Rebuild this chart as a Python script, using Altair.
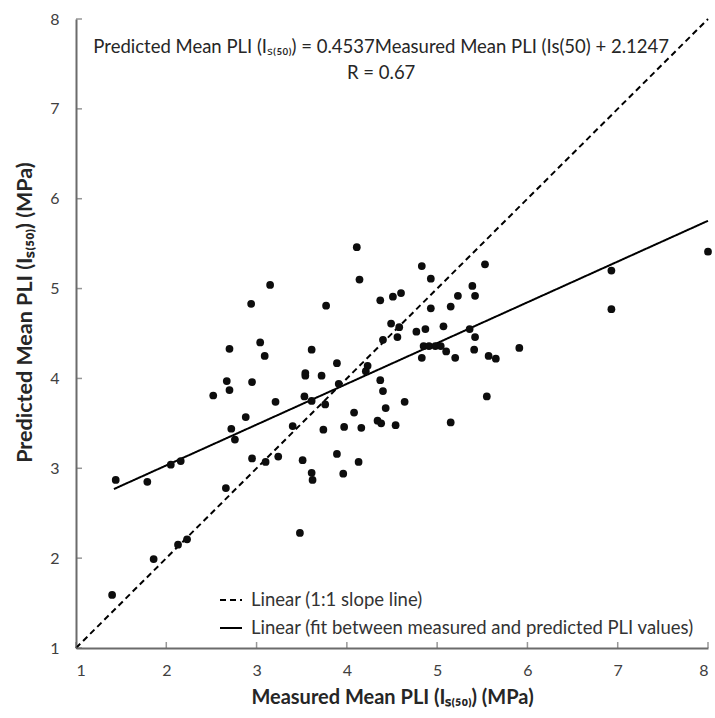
import altair as alt
import pandas as pd

# Measured vs predicted mean PLI
measured = [1.40, 1.44, 1.79, 1.86, 2.05, 2.13, 2.16, 2.23, 2.52, 2.66,
            2.67, 2.70, 2.70, 2.72, 2.76, 2.88, 2.94, 2.95, 2.95, 3.04,
            3.09, 3.10, 3.15, 3.21, 3.24, 3.40, 3.48, 3.51, 3.53, 3.54,
            3.54, 3.61, 3.61, 3.61, 3.62, 3.72, 3.74, 3.76, 3.77, 3.89,
            3.89, 3.91, 3.96, 3.97, 4.08, 4.11, 4.13, 4.14, 4.16, 4.21,
            4.23, 4.34, 4.37, 4.37, 4.38, 4.40, 4.40, 4.43, 4.49, 4.51,
            4.54, 4.56, 4.58, 4.60, 4.64, 4.77, 4.83, 4.83, 4.85, 4.87,
            4.91, 4.93, 4.93, 4.98, 5.04, 5.07, 5.10, 5.15, 5.15, 5.20,
            5.23, 5.36, 5.39, 5.41, 5.42, 5.42, 5.53, 5.55, 5.57, 5.65,
            5.91, 6.93, 6.93, 8.00]
predicted = [1.59, 2.87, 2.85, 1.99, 3.04, 2.15, 3.08, 2.21, 3.81, 2.78,
             3.97, 3.87, 4.33, 3.44, 3.32, 3.57, 4.83, 3.96, 3.11, 4.40,
             4.25, 3.07, 5.04, 3.74, 3.13, 3.47, 2.28, 3.09, 3.80, 4.06,
             4.03, 4.32, 3.75, 2.95, 2.87, 4.03, 3.43, 3.71, 4.81, 4.17,
             3.16, 3.94, 2.94, 3.46, 3.62, 5.46, 3.07, 5.10, 3.45, 4.08,
             4.14, 3.53, 4.87, 3.98, 3.50, 3.86, 4.43, 3.67, 4.61, 4.91,
             3.48, 4.46, 4.57, 4.95, 3.74, 4.52, 5.25, 4.23, 4.36, 4.55,
             4.36, 5.11, 4.78, 4.36, 4.36, 4.58, 4.30, 4.80, 3.51, 4.23,
             4.92, 4.55, 5.03, 4.32, 4.92, 4.46, 5.27, 3.80, 4.25, 4.22,
             4.34, 5.20, 4.77, 5.41]

fit_slope = 0.4537
fit_intercept = 2.1247
fit_x = [1.42, 8.0]
one_x = [1.0, 8.0]
series_names = ["Linear (1:1 slope line)",
                "Linear (fit between measured and predicted PLI values)"]
tick_values = [1, 2, 3, 4, 5, 6, 7, 8]
annot_text = ["Predicted Mean PLI (Iₛ₍₅₀₎) = 0.4537Measured Mean PLI (Is(50) + 2.1247",
              "R = 0.67"]
annot_x = [4.38, 4.38]
annot_y = [7.69, 7.40]

FONT = "Lato"

pts = pd.DataFrame({"measured": measured, "predicted": predicted})
lines = pd.DataFrame({
    "measured": one_x + fit_x,
    "predicted": one_x + [fit_slope * v + fit_intercept for v in fit_x],
    "series": [series_names[0]] * 2 + [series_names[1]] * 2,
})
ticks_df = pd.DataFrame({"t": tick_values, "base": [tick_values[0]] * len(tick_values)})
annot = pd.DataFrame({"tx": annot_x, "ty": annot_y, "txt": annot_text})

xscale = alt.Scale(domain=[1, 8], nice=False, zero=False)
yscale = alt.Scale(domain=[1, 8], nice=False, zero=False)

xaxis = alt.Axis(values=tick_values, format="d", grid=False, ticks=False,
                 title="Measured Mean PLI (Iₛ₍₅₀₎) (MPa)",
                 domainColor="#6b6b6b", domainWidth=2,
                 labelFont=FONT, labelFontSize=16, labelColor="#404040", labelPadding=14,
                 titleFont=FONT, titleFontSize=20, titleFontWeight="bold", titleColor="#262626",
                 titleX=316, titleY=49, titleBaseline="middle", titleAlign="center")
yaxis = alt.Axis(values=tick_values, format="d", grid=False, ticks=False,
                 title="Predicted Mean PLI (Iₛ₍₅₀₎) (MPa)",
                 domainColor="#6b6b6b", domainWidth=2,
                 labelFont=FONT, labelFontSize=16, labelColor="#404040", labelPadding=17,
                 titleFont=FONT, titleFontSize=21.5, titleFontWeight="bold", titleColor="#262626",
                 titleX=-51, titleY=293, titleAngle=270, titleBaseline="middle", titleAlign="center")

line_layer = alt.Chart(lines).mark_line(color="black", strokeWidth=2).encode(
    x=alt.X("measured:Q", scale=xscale, axis=xaxis),
    y=alt.Y("predicted:Q", scale=yscale, axis=yaxis),
    strokeDash=alt.StrokeDash(
        "series:N",
        scale=alt.Scale(domain=series_names, range=[[6, 4], [1, 0]]),
        legend=alt.Legend(title=None, orient="none", legendX=143, legendY=569,
                          padding=0, labelFont=FONT, labelFontSize=18.5, labelColor="#333333",
                          symbolType="stroke", symbolStrokeColor="black", symbolStrokeWidth=2,
                          symbolSize=484, labelOffset=8, rowPadding=6, labelLimit=0),
    ),
    detail="series:N",
)

point_layer = alt.Chart(pts).mark_circle(size=60, color="#0d0d0d", opacity=1).encode(
    x=alt.X("measured:Q", scale=xscale, axis=xaxis),
    y=alt.Y("predicted:Q", scale=yscale, axis=yaxis),
)

xticks = alt.Chart(ticks_df).mark_tick(orient="vertical", color="#6b6b6b", size=6,
                                       thickness=1.5, yOffset=-3).encode(
    x=alt.X("t:Q", scale=xscale, axis=xaxis),
    y=alt.Y("base:Q", scale=yscale, axis=yaxis),
)
yticks = alt.Chart(ticks_df).mark_tick(orient="horizontal", color="#6b6b6b", size=6,
                                       thickness=1.5, xOffset=3).encode(
    x=alt.X("base:Q", scale=xscale, axis=xaxis),
    y=alt.Y("t:Q", scale=yscale, axis=yaxis),
)

text_layer = alt.Chart(annot).mark_text(font=FONT, fontSize=18.5, color="#262626",
                                        align="center", baseline="middle").encode(
    x=alt.X("tx:Q", scale=xscale, axis=xaxis),
    y=alt.Y("ty:Q", scale=yscale, axis=yaxis),
    text="txt:N",
)

chart = alt.layer(line_layer, point_layer, xticks, yticks, text_layer).properties(
    width=632, height=629,
    padding={"left": 76, "top": 19, "right": 7, "bottom": 70},
    autosize=alt.AutoSizeParams(type="none"),
).configure_view(stroke=None)

chart.save("out.html", embed_options={"renderer": "svg", "actions": False})
